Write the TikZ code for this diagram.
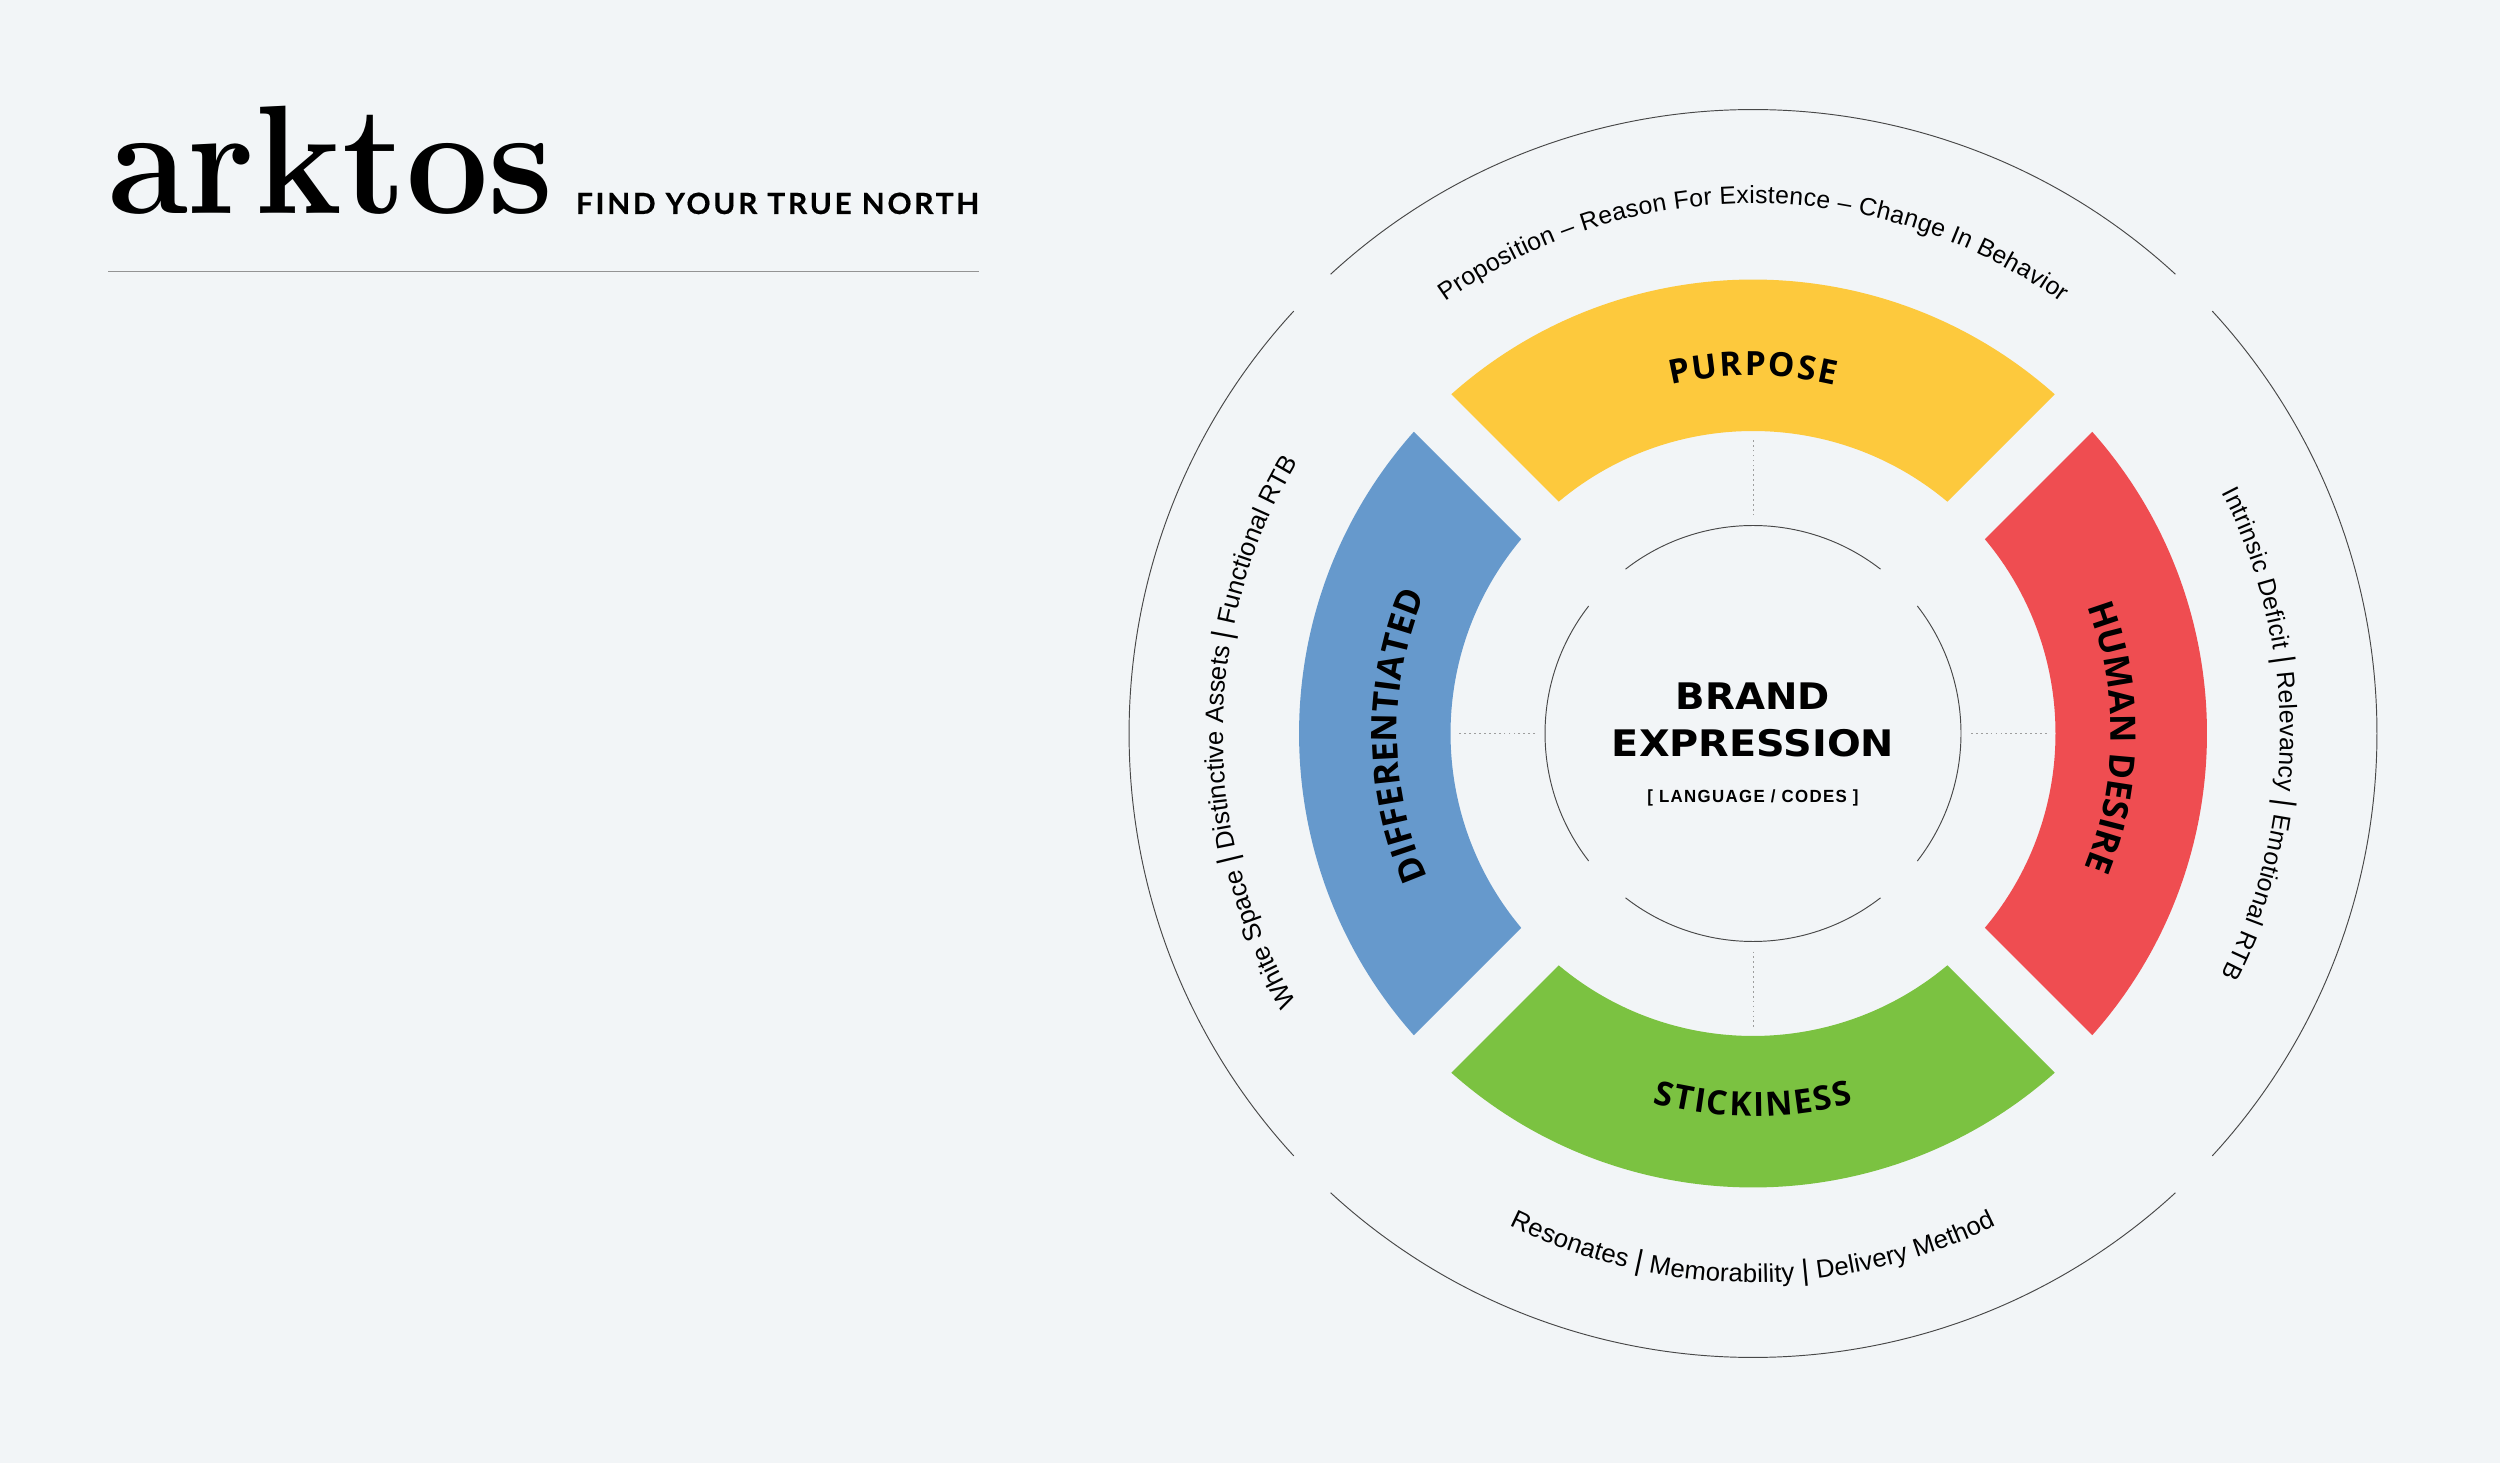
\documentclass[tikz,border=0pt]{standalone}
\usepackage{fontspec}
\usetikzlibrary{decorations.text}
\setmainfont{Latin Modern Roman}
\newfontfamily\libsans{Liberation Sans}
\newfontfamily\dejafont{DejaVu Sans}
\newfontfamily\opensans{Open Sans}
\newfontfamily\tagfam[LetterSpace=9,FakeBold=0.5]{Lato}
\newcommand{\ringfont}{\fontsize{7.3pt}{8pt}\libsans\selectfont}
\newcommand{\ringsmall}{\fontsize{7.05pt}{8pt}\libsans\selectfont}
\newcommand{\barfont}{\fontsize{8.3pt}{8pt}\libsans\selectfont}
\newcommand{\segfont}{\fontsize{10pt}{11pt}\opensans\bfseries\selectfont}
\newcommand{\segsmall}{\fontsize{9.5pt}{11pt}\opensans\bfseries\selectfont}
\definecolor{bgc}{HTML}{F2F5F7}
\definecolor{yel}{HTML}{FDC93D}
\definecolor{blu}{HTML}{6699CC}
\definecolor{redc}{HTML}{EF4D51}
\definecolor{gre}{HTML}{7BC241}
\definecolor{arcc}{HTML}{484848}
\tikzset{
  thinarc/.style={draw=arcc,line width=0.27pt},
  spoke/.style={draw=black!38,line width=0.2pt,dash pattern=on 0.5pt off 0.9pt},
  label/.style={inner sep=0pt,outer sep=0pt,anchor=base},
  curved/.style={decorate,decoration={text along path,text format delimiters={<}{>},text align={fit to path},text={#1}}}
}
\newcommand{\seg}[2]{\fill[#1,rotate=#2] (48.35:454) arc[start angle=48.35,end angle=131.65,radius=454] -- (129.97:302.5) arc[start angle=129.97,end angle=50.03,radius=302.5] -- cycle;}
\begin{document}
\begin{tikzpicture}[x=0.01cm,y=0.01cm]
\useasboundingbox (0,0) rectangle (2500,1463);
\fill[bgc] (0,0) rectangle (2500,1463);
% header
\node[label,anchor=base west] (logo) at (108,1249) {\fontsize{44pt}{50pt}\selectfont\bfseries\resizebox{4.45cm}{\height}{arktos}};
\node[label,anchor=base west] (tag) at (576,1249) {\fontsize{8.3pt}{10pt}\tagfam\bfseries\resizebox{4.03cm}{\height}{FIND YOUR TRUE NORTH}};
\coordinate (ruleL) at (108,1191.5);
\coordinate (ruleR) at (979,1191.5);
\draw[draw=black!42,line width=0.4pt] (ruleL) -- (ruleR);
\begin{scope}[shift={(1753,729.5)}]
\coordinate (c) at (0,0);
% ring segments
\seg{yel}{0}
\seg{blu}{90}
\seg{gre}{180}
\seg{redc}{270}
% thin circles
\foreach \r in {0,90,180,270}{
  \draw[thinarc,rotate=\r] (47.4:624) arc[start angle=47.4,end angle=132.6,radius=624];
  \draw[thinarc,rotate=\r] (52.2:208) arc[start angle=52.2,end angle=127.8,radius=208];
  \draw[spoke,rotate=\r] (90:218) -- (90:295);
}
% segment labels
\path[curved={<\segsmall>PURPOSE}] (103.2:358) arc[start angle=103.2,end angle=76.8,radius=358];
\path[curved={<\segfont>DIFFERENTIATED}] (203.8:356) arc[start angle=203.8,end angle=157,radius=356];
\path[curved={<\segfont>HUMAN DESIRE}] (20.8:358) arc[start angle=20.8,end angle=-20.8,radius=358];
\path[curved={<\segsmall>STICKINESS}] (254.75:383) arc[start angle=254.75,end angle=285.25,radius=383];
% outer ring texts
\path[curved={<\ringsmall>Proposition – Reason For Existence – Change In Behavior}] (125.5:530) arc[start angle=125.5,end angle=54.5,radius=530];
\path[curved={<\ringsmall>Intrinsic Deficit <\barfont>|<\ringsmall> Relevancy <\barfont>|<\ringsmall> Emotional RTB}] (27.2:527) arc[start angle=27.2,end angle=-27.2,radius=527];
\path[curved={<\ringfont>Resonates <\barfont>|<\ringfont> Memorability <\barfont>|<\ringfont> Delivery Method}] (243.7:549) arc[start angle=243.7,end angle=296.3,radius=549];
\path[curved={<\ringfont>White Space <\barfont>|<\ringfont> Distinctive Assets <\barfont>|<\ringfont> Functional RTB}] (210.5:530) arc[start angle=210.5,end angle=149.7,radius=530];
% centre
\node[label] (brand) at (0,23.5) {\fontsize{10.4pt}{12pt}\dejafont\bfseries\resizebox{1.54cm}{\height}{BRAND}};
\node[label] (expr) at (0,-23.2) {\fontsize{10.4pt}{12pt}\dejafont\bfseries\resizebox{2.82cm}{\height}{EXPRESSION}};
\node[label] (lang) at (0,-69.2) {\fontsize{5pt}{6pt}\libsans\bfseries\addfontfeature{LetterSpace=8}\resizebox{2.11cm}{\height}{[ LANGUAGE / CODES ]}};
\end{scope}
\end{tikzpicture}
\end{document}
